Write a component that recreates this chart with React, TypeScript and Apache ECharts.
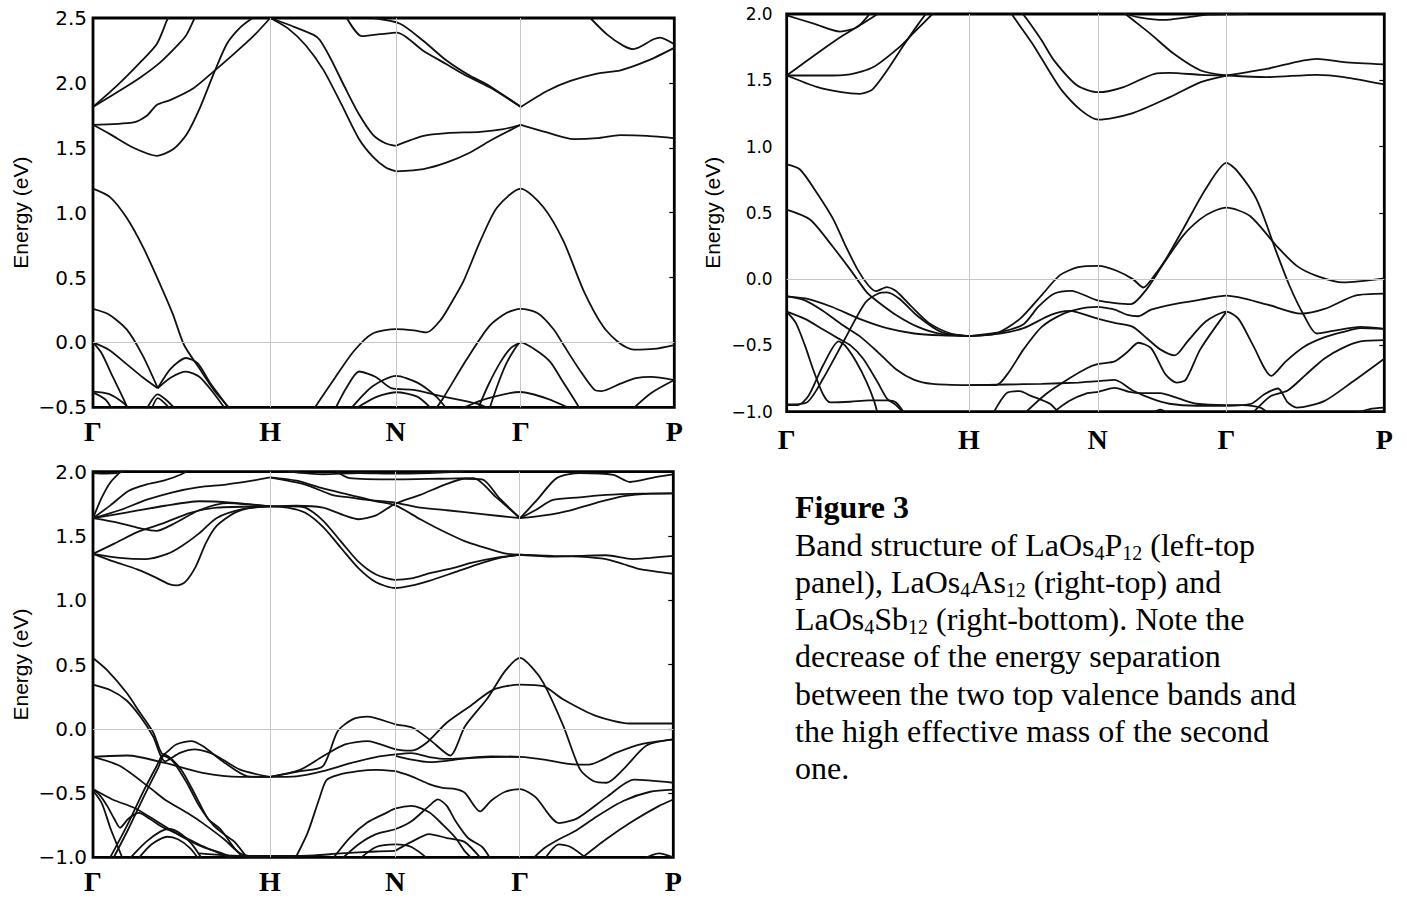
import React, { useEffect, useRef } from "react";
import * as echarts from "echarts";

// High-symmetry points of the bcc Brillouin zone path (units of 2π/a)
const kPoints = [0, 1, 1.7071, 2.4142, 3.2802];
const kLabels = ["Γ", "H", "N", "Γ", "P"];

// Energy ranges (eV)
const rangeP12 = [-0.5, 2.5];
const rangeAs12 = [-1, 2];
const rangeSb12 = [-1, 2];

// ---------- LaOs4P12 bands: [k, E] ----------
const bandsP12: number[][][] = [
  [[0,1.815],[0.134,1.977],[0.265,2.156],[0.36,2.3],[0.416,2.477],[0.44,2.55]],
  [[0,1.815],[0.134,1.926],[0.265,2.04],[0.378,2.156],[0.491,2.31],[0.529,2.374],[0.58,2.52]],
  [[0,1.677],[0.228,1.695],[0.303,1.746],[0.36,1.83],[0.435,1.867],[0.567,1.959],[0.68,2.087],[0.792,2.22],[0.905,2.36],[1.0,2.5]],
  [[0,1.677],[0.096,1.605],[0.228,1.5],[0.36,1.438],[0.454,1.49],[0.529,1.605],[0.604,1.81],[0.68,2.067],[0.755,2.3],[0.83,2.426],[0.9,2.5]],
  [[1.0,2.5],[1.12,2.44],[1.245,2.37],[1.28,2.33],[1.34,2.19],[1.42,1.97],[1.5,1.76],[1.58,1.6],[1.65,1.535],[1.707,1.515]],
  [[1.0,2.5],[1.1,2.42],[1.2,2.29],[1.3,2.1],[1.4,1.84],[1.5,1.57],[1.58,1.43],[1.65,1.35],[1.707,1.32]],
  [[1.707,1.515],[1.865,1.592],[1.997,1.613],[2.185,1.623],[2.317,1.644],[2.414,1.677]],
  [[1.707,1.318],[1.865,1.336],[1.997,1.387],[2.128,1.464],[2.241,1.554],[2.414,1.677]],
  [[2.414,1.677],[2.562,1.618],[2.712,1.567],[2.844,1.574],[2.976,1.597],[3.127,1.592],[3.28,1.574]],
  [[1.432,2.5],[1.517,2.36],[1.62,2.375],[1.715,2.387],[1.865,2.246],[2.0,2.14],[2.091,2.067],[2.241,1.964],[2.414,1.815]],
  [[1.582,2.5],[1.733,2.456],[1.865,2.323],[1.997,2.17],[2.128,2.054],[2.222,1.99],[2.414,1.815]],
  [[2.414,1.815],[2.562,1.938],[2.694,2.015],[2.844,2.072],[2.976,2.097],[3.127,2.169],[3.28,2.27]],
  [[2.806,2.5],[2.9,2.374],[2.994,2.285],[3.05,2.26],[3.163,2.336],[3.2,2.349],[3.28,2.297]],
  [[0,1.185],[0.096,1.12],[0.19,0.96],[0.284,0.73],[0.378,0.45],[0.45,0.22],[0.514,-0.02],[0.6,-0.2],[0.684,-0.37],[0.78,-0.52]],
  [[0,0.258],[0.09,0.215],[0.19,0.1],[0.28,-0.1],[0.365,-0.35]],
  [[0,0],[0.089,-0.057],[0.195,-0.173],[0.28,-0.268],[0.365,-0.353]],
  [[0.365,-0.353],[0.44,-0.2],[0.525,-0.12],[0.59,-0.16],[0.66,-0.31],[0.73,-0.44],[0.77,-0.52]],
  [[0.365,-0.353],[0.44,-0.27],[0.525,-0.225],[0.6,-0.265],[0.68,-0.39],[0.75,-0.52]],
  [[0,0],[0.047,-0.08],[0.11,-0.26],[0.17,-0.43],[0.2,-0.52]],
  [[0,-0.379],[0.089,-0.397],[0.174,-0.469],[0.206,-0.52]],
  [[0,-0.385],[0.07,-0.44],[0.11,-0.52]],
  [[0.3,-0.52],[0.365,-0.4],[0.41,-0.44],[0.47,-0.52]],
  [[0.33,-0.52],[0.365,-0.43],[0.44,-0.52]],
  [[1.23,-0.56],[1.253,-0.5],[1.364,-0.276],[1.47,-0.07],[1.576,0.067],[1.71,0.103],[1.81,0.093],[1.884,0.077],[1.96,0.17],[2.02,0.3],[2.09,0.47],[2.185,0.78],[2.28,1.04],[2.414,1.185],[2.543,1.04],[2.655,0.78],[2.768,0.4],[2.88,0.12],[2.976,-0.01],[3.051,-0.056],[3.165,-0.05],[3.28,-0.02]],
  [[1.93,-0.52],[1.98,-0.42],[2.107,-0.134],[2.235,0.124],[2.33,0.225],[2.414,0.258],[2.51,0.225],[2.6,0.1],[2.66,-0.03],[2.745,-0.21],[2.83,-0.366],[2.87,-0.375],[2.976,-0.318],[3.063,-0.276],[3.15,-0.265],[3.28,-0.29]],
  [[2.17,-0.52],[2.23,-0.33],[2.3,-0.15],[2.36,-0.04],[2.414,0]],
  [[2.235,-0.52],[2.28,-0.34],[2.33,-0.17],[2.38,-0.05],[2.414,0],[2.5,-0.06],[2.58,-0.15],[2.65,-0.3],[2.72,-0.45],[2.75,-0.52]],
  [[2.06,-0.52],[2.222,-0.433],[2.414,-0.382],[2.562,-0.433],[2.71,-0.52]],
  [[1.364,-0.52],[1.43,-0.35],[1.502,-0.224],[1.598,-0.268],[1.683,-0.353],[1.81,-0.366],[1.959,-0.412],[2.17,-0.474],[2.25,-0.52]],
  [[1.449,-0.52],[1.576,-0.34],[1.71,-0.258],[1.83,-0.31],[1.937,-0.418],[2.0,-0.52]],
  [[1.47,-0.52],[1.6,-0.42],[1.71,-0.384],[1.83,-0.418],[1.916,-0.52]],
  [[3.04,-0.52],[3.15,-0.39],[3.28,-0.29]],
];

// ---------- LaOs4As12 bands: [k, E] ----------
const bandsAs12: number[][][] = [
  [[0,1.536],[0.195,1.73],[0.3,1.83],[0.407,1.92],[0.5,2.0],[0.53,2.03]],
  [[0,1.536],[0.195,1.536],[0.348,1.545],[0.476,1.6],[0.622,1.754],[0.695,1.855],[0.8,2.0],[0.82,2.03]],
  [[0,1.536],[0.165,1.45],[0.3,1.41],[0.402,1.398],[0.47,1.43],[0.549,1.57],[0.64,1.76],[0.72,1.92],[0.78,2.03]],
  [[0,1.99],[0.153,1.925],[0.293,1.867],[0.386,1.9],[0.449,1.99],[0.47,2.03]],
  [[1.28,2.03],[1.319,1.96],[1.4,1.8],[1.467,1.65],[1.595,1.46],[1.711,1.41],[1.849,1.449],[2.019,1.549],[2.103,1.556],[2.273,1.541],[2.414,1.536]],
  [[1.22,2.03],[1.27,1.93],[1.361,1.75],[1.445,1.56],[1.51,1.424],[1.616,1.273],[1.711,1.203],[1.891,1.248],[2.103,1.373],[2.273,1.486],[2.414,1.536]],
  [[1.84,2.03],[1.86,2.0],[1.997,1.85],[2.125,1.7],[2.273,1.574],[2.414,1.536]],
  [[2.414,1.536],[2.634,1.586],[2.909,1.662],[3.058,1.637],[3.28,1.62]],
  [[2.414,1.536],[2.634,1.524],[2.909,1.541],[3.058,1.524],[3.28,1.469]],
  [[1.86,2.0],[1.934,1.975],[2.067,1.955],[2.2,1.975],[2.315,1.995],[2.53,2.0]],
  [[0,0.865],[0.073,0.827],[0.165,0.652],[0.256,0.451],[0.32,0.26],[0.39,0.07],[0.45,-0.05],[0.49,-0.09],[0.55,-0.06],[0.6,-0.09],[0.68,-0.2],[0.78,-0.33],[0.9,-0.41],[1.0,-0.43]],
  [[0,0.525],[0.128,0.45],[0.25,0.25],[0.35,0.07],[0.44,-0.1],[0.5,-0.17],[0.6,-0.27],[0.72,-0.36],[0.85,-0.415],[1.0,-0.43]],
  [[0,-0.945],[0.11,-0.93],[0.2,-0.75],[0.32,-0.45],[0.43,-0.18],[0.5,-0.11],[0.55,-0.1],[0.62,-0.15],[0.72,-0.28],[0.85,-0.4],[1.0,-0.43]],
  [[0,-0.13],[0.12,-0.15],[0.25,-0.21],[0.4,-0.3],[0.55,-0.37],[0.7,-0.41],[0.85,-0.425],[1.0,-0.43]],
  [[0,-0.13],[0.1,-0.16],[0.2,-0.24],[0.3,-0.34],[0.4,-0.43],[0.5,-0.55],[0.6,-0.68],[0.7,-0.76],[0.8,-0.79],[1.0,-0.8]],
  [[0,-0.245],[0.1,-0.3],[0.2,-0.38],[0.28,-0.445],[0.35,-0.5],[0.42,-0.6],[0.5,-0.78],[0.55,-0.9],[0.6,-0.95],[0.65,-1.02]],
  [[0,-0.245],[0.05,-0.33],[0.1,-0.5],[0.15,-0.7],[0.2,-0.87],[0.24,-0.93],[0.35,-0.925],[0.45,-0.915],[0.55,-0.915],[0.6,-0.93],[0.65,-1.02]],
  [[0,-0.95],[0.06,-0.95],[0.12,-0.88],[0.2,-0.65],[0.285,-0.47],[0.32,-0.5],[0.38,-0.62],[0.44,-0.78],[0.48,-0.92],[0.5,-1.02]],
  [[1.13,-1.02],[1.207,-0.86],[1.28,-0.845],[1.335,-0.877],[1.445,-0.94],[1.5,-1.02]],
  [[1.0,-0.43],[1.15,-0.41],[1.28,-0.3],[1.4,-0.12],[1.5,0.03],[1.6,0.09],[1.714,0.1],[1.811,0.063],[1.9,0.0],[1.958,-0.063],[2.02,0.03],[2.085,0.16],[2.177,0.38],[2.3,0.68],[2.414,0.877],[2.47,0.82],[2.58,0.6],[2.689,0.2],[2.76,-0.05],[2.835,-0.263],[2.909,-0.41],[3.0,-0.39],[3.15,-0.36],[3.28,-0.375]],
  [[1.0,-0.43],[1.17,-0.4],[1.3,-0.34],[1.38,-0.21],[1.467,-0.11],[1.56,-0.088],[1.711,-0.163],[1.89,-0.188],[1.976,-0.075],[2.06,0.1],[2.177,0.33],[2.268,0.451],[2.34,0.51],[2.414,0.539],[2.543,0.476],[2.689,0.25],[2.8,0.1],[2.909,0.025],[3.055,-0.025],[3.28,0.005]],
  [[1.711,-0.21],[1.8,-0.23],[1.87,-0.27],[1.93,-0.28],[2.0,-0.23],[2.12,-0.19],[2.27,-0.155],[2.414,-0.125],[2.634,-0.19],[2.824,-0.26],[2.952,-0.225],[3.121,-0.125],[3.28,-0.11]],
  [[1.0,-0.8],[1.15,-0.8],[1.22,-0.7],[1.3,-0.53],[1.4,-0.36],[1.52,-0.26],[1.62,-0.22],[1.711,-0.21]],
  [[1.0,-0.43],[1.17,-0.41],[1.3,-0.37],[1.45,-0.27],[1.55,-0.24],[1.711,-0.3],[1.8,-0.33],[1.9,-0.36],[1.98,-0.45],[2.05,-0.53],[2.13,-0.575],[2.2,-0.47],[2.3,-0.32],[2.414,-0.245],[2.48,-0.3],[2.56,-0.5],[2.66,-0.73],[2.74,-0.62],[2.84,-0.51],[2.95,-0.44],[3.05,-0.4],[3.15,-0.37],[3.28,-0.375]],
  [[2.55,-1.02],[2.6,-0.95],[2.66,-0.88],[2.75,-0.84],[2.85,-0.72],[2.95,-0.6],[3.05,-0.52],[3.15,-0.47],[3.28,-0.46]],
  [[1.0,-0.8],[1.2,-0.795],[1.4,-0.79],[1.6,-0.78],[1.711,-0.77],[1.8,-0.76],[1.9,-0.84],[2.0,-0.9],[2.1,-0.94],[2.25,-0.955],[2.414,-0.955],[2.55,-0.94],[2.62,-0.87],[2.697,-0.825],[2.75,-0.93],[2.8,-0.97],[2.95,-0.92],[3.1,-0.78],[3.28,-0.6]],
  [[1.3,-1.02],[1.42,-0.87],[1.55,-0.75],[1.65,-0.67],[1.711,-0.64],[1.8,-0.62],[1.87,-0.55],[1.93,-0.48],[2.0,-0.52],[2.08,-0.72],[2.14,-0.78],[2.19,-0.76],[2.27,-0.53],[2.414,-0.245]],
  [[1.45,-1.02],[1.55,-0.92],[1.65,-0.86],[1.711,-0.85],[1.8,-0.82],[1.88,-0.85],[1.95,-0.86],[2.05,-0.86],[2.15,-0.9],[2.25,-0.94],[2.414,-0.95],[2.5,-0.95],[2.6,-0.97],[2.65,-1.02]],
  [[2.0,-1.02],[2.05,-0.985],[2.1,-1.02]],
  [[3.1,-1.02],[3.2,-0.98],[3.28,-0.97]],
];

// ---------- LaOs4Sb12 bands: [k, E] ----------
const bandsSb12: number[][][] = [
  [[0,1.638],[0.05,1.8],[0.1,1.92],[0.155,2.0],[0.17,2.03]],
  [[0,1.638],[0.1,1.74],[0.2,1.85],[0.3,1.9],[0.4,1.93],[0.5,1.98],[0.56,2.03]],
  [[0,1.638],[0.15,1.7],[0.3,1.78],[0.45,1.84],[0.6,1.88],[0.75,1.9],[0.9,1.93],[1.0,1.956]],
  [[0,1.638],[0.15,1.6],[0.28,1.555],[0.36,1.54],[0.45,1.59],[0.6,1.7],[0.76,1.755],[0.88,1.745],[1.0,1.73]],
  [[0,1.638],[0.195,1.683],[0.407,1.735],[0.6,1.77],[0.78,1.76],[1.0,1.73]],
  [[0,1.361],[0.12,1.44],[0.25,1.53],[0.4,1.6],[0.55,1.68],[0.7,1.72],[1.0,1.73]],
  [[0,1.361],[0.15,1.33],[0.3,1.32],[0.42,1.36],[0.5,1.42],[0.6,1.52],[0.7,1.64],[0.85,1.71],[1.0,1.73]],
  [[0,1.361],[0.12,1.3],[0.25,1.24],[0.35,1.18],[0.43,1.125],[0.475,1.115],[0.52,1.14],[0.58,1.26],[0.64,1.45],[0.7,1.58],[0.8,1.68],[0.9,1.72],[1.0,1.73]],
  [[0,1.99],[0.07,1.985],[0.14,1.99],[0.2,2.02]],
  [[1.0,1.956],[1.15,1.93],[1.3,1.87],[1.45,1.82],[1.6,1.77],[1.707,1.74],[1.85,1.63],[1.96,1.55],[2.1,1.46],[2.2,1.415],[2.32,1.366],[2.414,1.354]],
  [[1.0,1.73],[1.12,1.73],[1.2,1.72],[1.3,1.62],[1.4,1.46],[1.5,1.3],[1.6,1.2],[1.707,1.159],[1.8,1.17],[1.905,1.211],[2.05,1.255],[2.131,1.289],[2.3,1.335],[2.414,1.354]],
  [[1.0,1.73],[1.1,1.72],[1.2,1.68],[1.3,1.57],[1.4,1.41],[1.5,1.25],[1.6,1.14],[1.707,1.095],[1.82,1.12],[1.9,1.15],[2.05,1.22],[2.2,1.29],[2.3,1.33],[2.414,1.354]],
  [[1.0,1.73],[1.15,1.735],[1.3,1.72],[1.42,1.66],[1.5,1.63],[1.6,1.66],[1.707,1.75],[1.85,1.82],[1.99,1.9],[2.1,1.945],[2.2,1.94],[2.3,1.79],[2.414,1.638]],
  [[1.0,1.956],[1.2,1.9],[1.35,1.82],[1.45,1.8],[1.55,1.78],[1.707,1.76],[1.85,1.72],[2.0,1.7],[2.2,1.67],[2.414,1.638]],
  [[1.35,2.03],[1.45,1.95],[1.707,1.94],[1.95,1.945],[2.15,1.95],[2.28,1.8],[2.414,1.638]],
  [[1.1,2.0],[1.3,1.98],[1.5,1.99],[1.707,1.985],[1.9,1.99],[2.1,2.0]],
  [[2.414,1.638],[2.51,1.78],[2.621,1.95],[2.753,1.99],[2.941,1.975],[3.035,1.92],[3.186,1.96],[3.281,1.98]],
  [[2.414,1.638],[2.5,1.7],[2.6,1.78],[2.75,1.8],[2.9,1.82],[3.1,1.83],[3.28,1.832]],
  [[2.414,1.638],[2.55,1.66],[2.7,1.7],[2.85,1.76],[3.0,1.81],[3.15,1.83],[3.28,1.832]],
  [[2.414,1.354],[2.6,1.34],[2.75,1.345],[2.9,1.35],[3.05,1.32],[3.15,1.33],[3.28,1.345]],
  [[2.414,1.354],[2.6,1.345],[2.75,1.34],[2.9,1.32],[3.0,1.28],[3.1,1.24],[3.28,1.206]],
  [[0,0.551],[0.077,0.46],[0.19,0.28],[0.266,0.124],[0.341,-0.03],[0.397,-0.2],[0.47,-0.122],[0.556,-0.096],[0.62,-0.135],[0.746,-0.266],[0.874,-0.37],[1.0,-0.375]],
  [[0,0.344],[0.1,0.3],[0.19,0.22],[0.27,0.09],[0.34,-0.06],[0.407,-0.253],[0.492,-0.1875],[0.577,-0.161],[0.683,-0.2],[0.831,-0.318],[1.0,-0.375]],
  [[0,-0.219],[0.195,-0.208],[0.407,-0.266],[0.62,-0.344],[0.831,-0.375],[1.0,-0.375]],
  [[0,-0.219],[0.153,-0.29],[0.322,-0.46],[0.407,-0.552],[0.534,-0.656],[0.62,-0.734],[0.746,-0.865],[0.831,-0.969],[0.916,-0.995],[1.0,-0.995]],
  [[0.09,-1.02],[0.19,-0.76],[0.28,-0.5],[0.36,-0.29],[0.398,-0.2],[0.43,-0.22],[0.5,-0.32],[0.58,-0.52],[0.65,-0.7],[0.72,-0.78],[0.8,-0.93],[0.86,-1.02]],
  [[0.11,-1.02],[0.2,-0.78],[0.29,-0.52],[0.37,-0.3],[0.4,-0.21],[0.45,-0.25],[0.53,-0.42],[0.6,-0.6],[0.68,-0.75],[0.75,-0.83],[0.8,-0.88],[0.88,-1.02]],
  [[0,-0.469],[0.11,-0.55],[0.24,-0.62],[0.36,-0.72],[0.49,-0.83],[0.62,-0.92],[0.73,-0.97],[0.82,-1.02]],
  [[0,-0.47],[0.04,-0.52],[0.08,-0.6],[0.12,-0.7],[0.153,-0.77],[0.2,-0.7],[0.259,-0.655],[0.32,-0.7],[0.4,-0.77],[0.5,-0.83],[0.6,-0.9],[0.7,-0.96],[0.8,-1.02]],
  [[0,-0.48],[0.05,-0.58],[0.1,-0.78],[0.15,-0.95],[0.17,-1.02]],
  [[0.2,-1.02],[0.3,-0.88],[0.38,-0.8],[0.43,-0.78],[0.5,-0.82],[0.56,-0.9],[0.62,-1.02]],
  [[0.25,-1.02],[0.33,-0.9],[0.42,-0.84],[0.48,-0.86],[0.55,-0.93],[0.6,-1.02]],
  [[0.6,-0.97],[0.75,-0.985],[0.9,-0.99],[1.0,-0.99],[1.1,-0.99],[1.25,-0.985],[1.4,-0.97],[1.6,-0.955],[1.707,-0.95]],
  [[0.8,-1.02],[0.9,-0.995],[1.1,-0.995],[1.2,-1.02]],
  [[1.0,-0.375],[1.17,-0.33],[1.3,-0.29],[1.383,-0.02],[1.467,0.073],[1.552,0.094],[1.711,0.034],[1.807,0.008],[1.913,-0.096],[2.019,-0.208],[2.103,0.02],[2.231,0.24],[2.33,0.45],[2.414,0.551],[2.48,0.48],[2.546,0.357],[2.659,0.021],[2.753,-0.316],[2.828,-0.406],[2.903,-0.42],[2.997,-0.316],[3.129,-0.13],[3.28,-0.083]],
  [[1.0,-0.375],[1.17,-0.32],[1.3,-0.214],[1.425,-0.122],[1.552,-0.096],[1.711,-0.16],[1.8,-0.17],[1.886,-0.109],[1.999,0.047],[2.131,0.176],[2.263,0.305],[2.414,0.344],[2.546,0.331],[2.659,0.228],[2.847,0.098],[3.035,0.041],[3.28,0.041]],
  [[1.711,-0.21],[1.8,-0.24],[1.9,-0.26],[2.0,-0.25],[2.1,-0.23],[2.25,-0.215],[2.414,-0.219],[2.55,-0.24],[2.7,-0.275],[2.803,-0.279],[2.88,-0.24],[2.952,-0.19],[3.1,-0.12],[3.28,-0.083]],
  [[1.0,-0.375],[1.15,-0.37],[1.3,-0.33],[1.45,-0.27],[1.6,-0.22],[1.711,-0.2],[1.8,-0.19],[1.9,-0.22],[2.0,-0.235],[2.1,-0.23],[2.25,-0.22],[2.414,-0.219]],
  [[1.711,-0.33],[1.8,-0.37],[1.9,-0.43],[1.976,-0.46],[2.05,-0.47],[2.103,-0.5],[2.188,-0.643],[2.25,-0.56],[2.33,-0.49],[2.414,-0.469],[2.5,-0.53],[2.634,-0.734],[2.74,-0.695],[2.909,-0.526],[3.058,-0.396],[3.28,-0.42]],
  [[2.48,-1.02],[2.55,-0.93],[2.634,-0.86],[2.72,-0.8],[2.85,-0.68],[3.0,-0.56],[3.15,-0.49],[3.28,-0.474]],
  [[1.139,-1.02],[1.213,-0.81],[1.277,-0.552],[1.319,-0.4],[1.383,-0.36],[1.5,-0.33],[1.6,-0.32],[1.711,-0.33]],
  [[1.35,-1.02],[1.45,-0.85],[1.55,-0.73],[1.65,-0.66],[1.711,-0.62],[1.8,-0.6],[1.9,-0.65],[1.98,-0.75],[2.05,-0.85],[2.1,-0.95],[2.15,-1.02]],
  [[1.4,-1.02],[1.5,-0.9],[1.6,-0.82],[1.711,-0.78],[1.8,-0.72],[1.9,-0.6],[1.95,-0.55],[2.0,-0.6],[2.05,-0.72],[2.12,-0.85],[2.2,-0.92],[2.25,-1.02]],
  [[1.5,-1.02],[1.6,-0.92],[1.711,-0.9],[1.8,-0.92],[1.9,-1.02]],
  [[1.707,-0.95],[1.8,-0.88],[1.9,-0.82],[2.0,-0.85],[2.1,-0.88],[2.2,-1.02]],
  [[2.55,-1.02],[2.634,-0.9],[2.7,-0.92],[2.8,-1.02]],
  [[2.75,-1.02],[2.9,-0.86],[3.05,-0.72],[3.2,-0.6],[3.28,-0.55]],
  [[3.1,-1.02],[3.2,-0.97],[3.28,-1.0]],
];

// Caption lines (rich text: {s|..} is a subscript)
const captionTitle = "Figure 3";
const captionLines = [
  "Band structure of LaOs{s|4}P{s|12} (left-top",
  "panel), LaOs{s|4}As{s|12} (right-top) and",
  "LaOs{s|4}Sb{s|12} (right-bottom). Note the",
  "decrease of the energy separation",
  "between the two top valence bands and",
  "the high effective mass of the second",
  "one.",
];

const panels = [
  { bands: bandsP12, range: rangeP12, left: 93, top: 18, width: 581.3, height: 389.3, tickFont: 20, tickMargin: 6, nameGap: 62, xMargin: 10 },
  { bands: bandsAs12, range: rangeAs12, left: 786.7, top: 14, width: 597.6, height: 397.7, tickFont: 17, tickMargin: 14, nameGap: 64, xMargin: 14 },
  { bands: bandsSb12, range: rangeSb12, left: 93, top: 471.7, width: 580.3, height: 385.6, tickFont: 20, tickMargin: 6, nameGap: 62, xMargin: 10 },
];

const fmtE = (v: number) => (v < 0 ? "\u2212" : "") + Math.abs(v).toFixed(1);
const fmtK = (v: number) => {
  for (let i = 0; i < kPoints.length; i++) if (Math.abs(kPoints[i] - v) < 1e-3) return kLabels[i];
  return "";
};

export default function App() {
  const ref = useRef<HTMLDivElement>(null);
  useEffect(() => {
    if (!ref.current) return;
    const chart = echarts.init(ref.current, null, { renderer: "svg" });
    const grid: any[] = [];
    const xAxis: any[] = [];
    const yAxis: any[] = [];
    const series: any[] = [];
    panels.forEach((p, gi) => {
      grid.push({
        left: p.left, top: p.top, width: p.width, height: p.height,
        show: true, borderColor: "#000", borderWidth: 2.8, backgroundColor: "transparent",
        containLabel: false, outerBoundsMode: "none",
      });
      xAxis.push({
        type: "value", gridIndex: gi, min: kPoints[0], max: kPoints[kPoints.length - 1],
        axisLine: { show: false }, axisTick: { show: false }, splitLine: { show: false },
        axisLabel: {
          customValues: kPoints, formatter: fmtK, fontFamily: "Liberation Serif",
          fontWeight: "bold", fontSize: 28, color: "#000", margin: p.xMargin,
        },
      });
      yAxis.push({
        type: "value", gridIndex: gi, min: p.range[0], max: p.range[1], interval: 0.5, position: "left",
        axisLine: { show: false }, axisTick: { show: false }, splitLine: { show: false },
        axisLabel: { formatter: fmtE, fontFamily: "DejaVu Sans", fontSize: p.tickFont, color: "#000", margin: p.tickMargin },
        name: "Energy (eV)", nameLocation: "middle", nameGap: p.nameGap,
        nameTextStyle: { fontFamily: "Liberation Sans", fontSize: 21, color: "#000" },
      });
      yAxis.push({
        type: "value", gridIndex: gi, min: p.range[0], max: p.range[1], interval: 0.5, position: "right",
        axisLine: { show: false }, splitLine: { show: false }, axisLabel: { show: false },
        axisTick: { show: true, inside: true, length: 5, lineStyle: { color: "#000", width: 1.2 } },
      });
      series.push({
        type: "line", xAxisIndex: gi, yAxisIndex: gi * 2, data: [[0, 0]], symbol: "none",
        lineStyle: { width: 0, opacity: 0 }, silent: true, z: 1,
        markLine: {
          silent: true, symbol: ["none", "none"], label: { show: false },
          lineStyle: { color: "#c6c6c6", width: 1, type: "solid" },
          data: [{ xAxis: kPoints[1] }, { xAxis: kPoints[2] }, { xAxis: kPoints[3] }, { yAxis: 0 }],
        },
      });
      p.bands.forEach((b) => {
        series.push({
          type: "line", xAxisIndex: gi, yAxisIndex: gi * 2, data: b, symbol: "none", showSymbol: false,
          smooth: 0.25, clip: true, silent: true, z: 3,
          lineStyle: { color: "#111", width: 1.8 },
        });
      });
    });

    const graphic: any[] = [
      {
        type: "text", x: 795, y: 507,
        style: { text: captionTitle, fontFamily: "Liberation Serif", fontWeight: "bold", fontSize: 32, fill: "#000", align: "left", verticalAlign: "middle" },
      },
    ];
    const baselines = [556, 593, 630, 667, 705, 742, 779];
    captionLines.forEach((t, i) => {
      graphic.push({
        type: "text", x: 795, y: baselines[i] - 11,
        style: {
          text: t, fontFamily: "Liberation Serif", fontSize: 32, fill: "#000", align: "left", verticalAlign: "middle",
          lineHeight: 34,
          rich: { s: { fontFamily: "Liberation Serif", fontSize: 20, fill: "#000", lineHeight: 34, padding: [15, 0, 0, 0] } },
        },
      });
    });

    chart.setOption({ animation: false, backgroundColor: "#fff", grid, xAxis, yAxis, series, graphic });
    return () => chart.dispose();
  }, []);
  return <div ref={ref} style={{ position: "fixed", left: 0, top: 0, width: 1407, height: 899, background: "#fff" }} />;
}
